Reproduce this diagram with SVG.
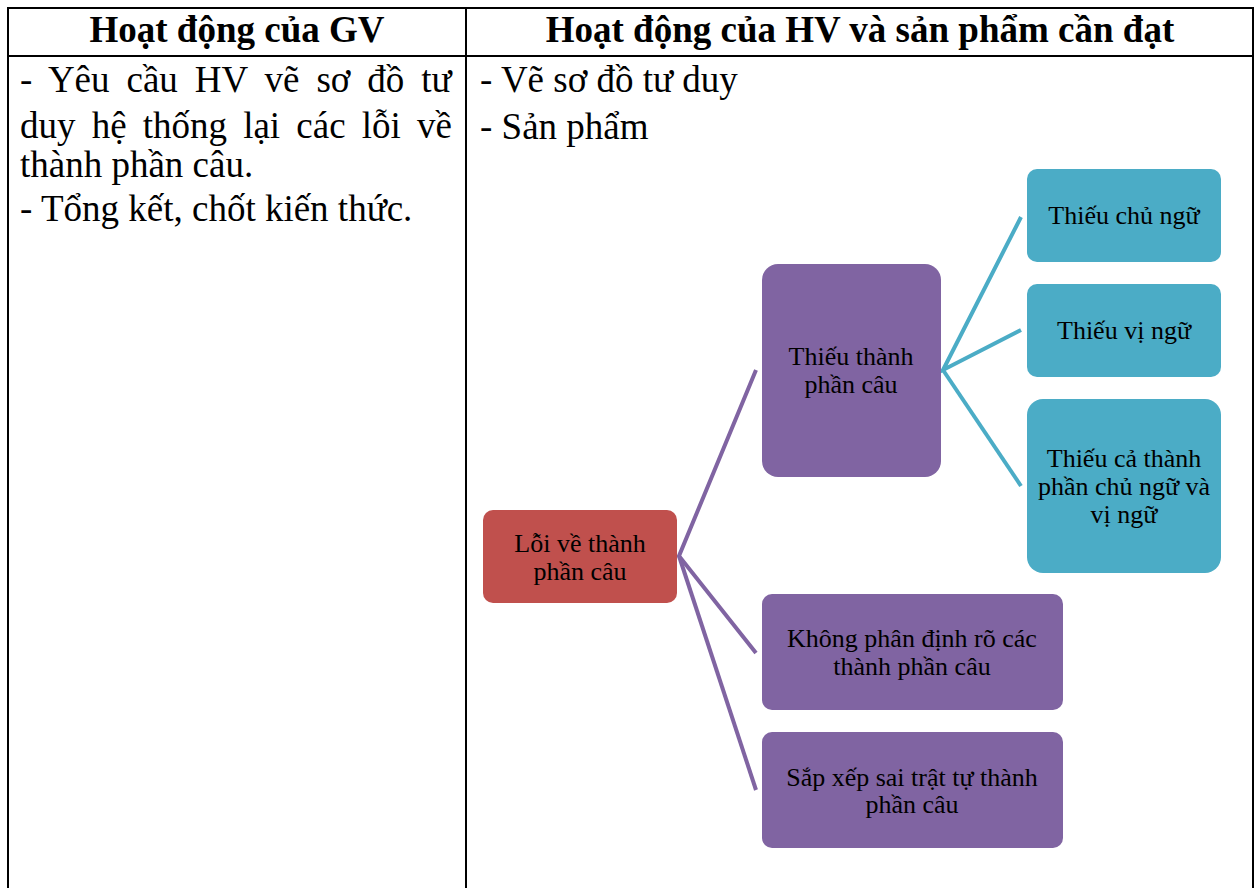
<svg xmlns="http://www.w3.org/2000/svg" width="1257" height="888" viewBox="0 0 1257 888">
<style>
.grid{stroke:#000;stroke-width:2;fill:none}
.hd{font-family:"Liberation Serif","Times New Roman",serif;font-size:37px;font-weight:bold;fill:#000;text-anchor:middle}
.cell{font-family:"Liberation Serif","Times New Roman",serif;font-size:37px;fill:#000}
.nt{font-family:"Liberation Serif","Times New Roman",serif;font-size:26px;fill:#000;text-anchor:middle}
.red{fill:#C0504D}
.pur{fill:#8064A2}
.teal{fill:#4BACC6}
.cp{stroke:#8064A2;stroke-width:4;fill:none}
.ct{stroke:#4BACC6;stroke-width:4;fill:none}
</style>
<rect x="0" y="0" width="1257" height="888" fill="#fff"/>
<g id="left-cell">
<text class="cell" x="20" y="92" word-spacing="7.7">- Yêu cầu HV vẽ sơ đồ tư</text>
<text class="cell" x="20" y="138" word-spacing="6.9">duy hệ thống lại các lỗi về</text>
<text class="cell" x="20" y="177">thành phần câu.</text>
<text class="cell" x="20" y="221">- Tổng kết, chốt kiến thức.</text>
</g>
<g id="right-cell">
<text class="cell" x="480" y="92">- Vẽ sơ đồ tư duy</text>
<text class="cell" x="480" y="139">- Sản phẩm</text>
</g>
<g id="table">
<line class="grid" x1="7" y1="8" x2="1254" y2="8"/>
<line class="grid" x1="7" y1="56" x2="1254" y2="56"/>
<line class="grid" x1="8" y1="7" x2="8" y2="888"/>
<line class="grid" x1="466" y1="7" x2="466" y2="888"/>
<line class="grid" x1="1253" y1="7" x2="1253" y2="888"/>
<text class="hd" x="237" y="42">Hoạt động của GV</text>
<text class="hd" x="860" y="42">Hoạt động của HV và sản phẩm cần đạt</text>
</g>
<g id="connectors">
<polyline class="cp" points="756,370 679,556 756,653"/>
<line class="cp" x1="679" y1="556" x2="756" y2="790"/>
<polyline class="ct" points="1021,217 943,370 1021,330"/>
<line class="ct" x1="943" y1="370" x2="1021" y2="486"/>
</g>
<g id="n-root">
<rect class="red" x="483" y="510" width="194" height="93" rx="10"/>
<text class="nt" x="580" y="552">Lỗi về thành</text>
<text class="nt" x="580" y="580">phần câu</text>
</g>
<g id="n-thieu">
<rect class="pur" x="762" y="264" width="179" height="213" rx="16"/>
<text class="nt" x="851" y="365">Thiếu thành</text>
<text class="nt" x="851" y="393">phần câu</text>
</g>
<g id="n-chu">
<rect class="teal" x="1027" y="169" width="194" height="93" rx="10"/>
<text class="nt" x="1124" y="224">Thiếu chủ ngữ</text>
</g>
<g id="n-vi">
<rect class="teal" x="1027" y="284" width="194" height="93" rx="10"/>
<text class="nt" x="1124" y="339">Thiếu vị ngữ</text>
</g>
<g id="n-ca">
<rect class="teal" x="1027" y="399" width="194" height="174" rx="16"/>
<text class="nt" x="1124" y="467">Thiếu cả thành</text>
<text class="nt" x="1124" y="495">phần chủ ngữ và</text>
<text class="nt" x="1124" y="523">vị ngữ</text>
</g>
<g id="n-khong">
<rect class="pur" x="762" y="594" width="301" height="116" rx="10"/>
<text class="nt" x="912" y="647">Không phân định rõ các</text>
<text class="nt" x="912" y="675">thành phần câu</text>
</g>
<g id="n-sap">
<rect class="pur" x="762" y="732" width="301" height="116" rx="10"/>
<text class="nt" x="912" y="786">Sắp xếp sai trật tự thành</text>
<text class="nt" x="912" y="813">phần câu</text>
</g>
</svg>
